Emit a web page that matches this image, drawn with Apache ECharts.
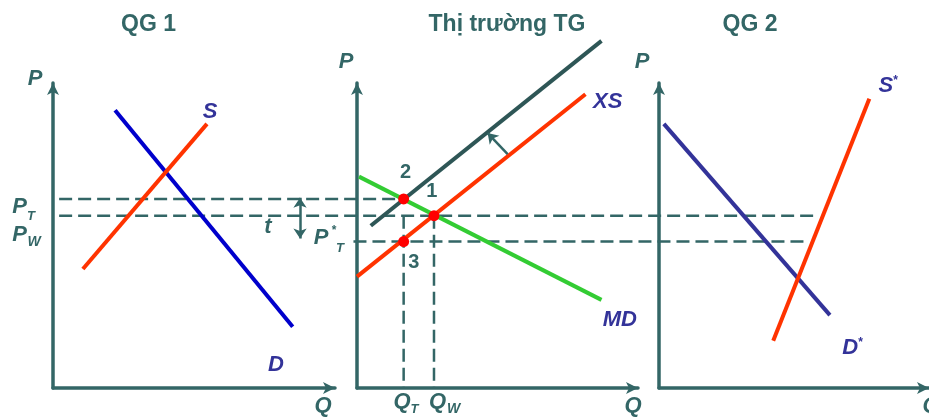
<!DOCTYPE html>
<html>
<head>
<meta charset="utf-8">
<title>Thị trường TG</title>
<script src="https://cdn.jsdelivr.net/npm/echarts@6/dist/echarts.min.js"></script>
<style>
  html, body { margin: 0; padding: 0; background: #fff; }
  #chart { width: 929px; height: 418px; }
</style>
</head>
<body>
<div id="chart"></div>
<script>
// muc gia (truc P: 0-100, truc Q: 0-100 cho moi o)
var pT = 62, pW = 56.5, pTStar = 48;

// QG 1
var s1 = [[10.6, 39], [54.6, 86.6]];
var d1 = [[22, 91.1], [85, 20.1]];
var tArrow = [[87.6, 62.4], [87.6, 49]];

// Thi truong TG
var xs = [[0, 36.5], [81.3, 96.3]];
var xsTariff = [[4.9, 53.2], [87, 113.8]];
var md = [[0.7, 69.3], [87, 28.9]];
var qT = 16.6, qW = 27.4;
var eqPoints = [[qW, pW], [qT, pT], [qT, pTStar]]; // diem 1, 2, 3
var shiftArrow = [[53.6, 76.7], [46.5, 83.6]];

// QG 2
var s2 = [[42.3, 15.5], [77.9, 94.8]];
var d2 = [[1.8, 86.6], [63.3, 23.9]];

// duong gach ngang: ve tren luoi phu trai qua ca 3 o (truc x: 0-100 = toan bo chieu rong)
var ptGuide = [[0.7, pT], [39.6, pT]];
var pwGuide = [[0.7, pW], [87.3, pW]];
var ptStarGuide = [[34.3, pTStar], [86.1, pTStar]];
// duong gach doc (o 2)
var qtGuide = [[qT, pW], [qT, 0]];
var qwGuide = [[qW, pW], [qW, 0]];

// nhan duong cong
var labels1 = [{ name: 'S', value: [55.7, 90.5] }, { name: 'D', value: [79.1, 7.5] }];
var labels2 = [{ name: 'XS', value: [89.2, 93.8] }, { name: 'MD', value: [93.5, 22.3] }];
var numLabels = [{ name: '1', value: [26.6, 64.3] }, { name: '2', value: [17.3, 70.5] }, { name: '3', value: [20.2, 41] }];
var labels3 = [{ name: 'S', value: [84.9, 99.2] }, { name: 'D', value: [71.7, 13.1] }];

var teal = '#336666';
var navy = '#333399';
var red = '#ff3300';
var FONT = '"Liberation Sans", Arial, sans-serif';

var grids = [
  { left: 53, top: 83, width: 282, height: 305 },
  { left: 357, top: 83, width: 281, height: 305 },
  { left: 659, top: 83, width: 281, height: 305 },
  { left: 53, top: 83, width: 887, height: 305 } // luoi phu cho duong gach ngang
];

function axis(i) {
  return {
    gridIndex: i, type: 'value', min: 0, max: 100, show: i < 3,
    axisLine: { show: true, onZero: false, symbol: ['none', 'arrow'], symbolSize: [9, 12],
      lineStyle: { color: teal, width: 3.5 } },
    axisTick: { show: false }, axisLabel: { show: false }, splitLine: { show: false }
  };
}

function seg(g, data, color, width, dashed, z) {
  return {
    type: 'line', xAxisIndex: g, yAxisIndex: g, data: data, symbol: 'none',
    clip: false, silent: true, z: z || 2,
    lineStyle: { color: color, width: width, type: dashed ? [13, 6] : 'solid', cap: 'butt' }
  };
}

function textSeries(g, data, color, size, italic) {
  return {
    type: 'scatter', xAxisIndex: g, yAxisIndex: g, data: data, symbolSize: 1,
    clip: false, silent: true, z: 5,
    itemStyle: { color: 'rgba(0,0,0,0)', opacity: 1 },
    label: {
      show: true, position: 'inside', formatter: '{b}',
      color: color, fontSize: size, fontWeight: 'bold', fontStyle: italic ? 'italic' : 'normal', fontFamily: FONT
    }
  };
}

function arrow(g, coords, ends) {
  return {
    type: 'lines', coordinateSystem: 'cartesian2d', xAxisIndex: g, yAxisIndex: g,
    symbol: ends, symbolSize: 10, silent: true, z: 4,
    lineStyle: { color: teal, width: 2.5, opacity: 1, curveness: 0 },
    data: [{ coords: coords }]
  };
}

function txt(text, x, y, size, italic, color) {
  return {
    type: 'text', x: x, y: y, silent: true,
    style: {
      text: text, fill: color || teal,
      font: (italic ? 'italic ' : '') + 'bold ' + size + 'px ' + FONT,
      textAlign: 'center', verticalAlign: 'middle'
    }
  };
}

var starLabel = {
  show: true, position: 'inside', color: navy, fontFamily: FONT,
  formatter: '{m|{b}}{sup|*}',
  rich: {
    m: { fontSize: 22, fontWeight: 'bold', fontStyle: 'italic', fontFamily: FONT, color: navy },
    sup: { fontSize: 12, fontWeight: 'bold', verticalAlign: 'top', fontFamily: FONT, color: navy }
  }
};

var chart = echarts.init(document.getElementById('chart'));
var option = {
  animation: false,
  backgroundColor: '#ffffff',
  grid: grids,
  xAxis: [axis(0), axis(1), axis(2), axis(3)],
  yAxis: [axis(0), axis(1), axis(2), axis(3)],
  series: [
    // duong gach
    seg(3, ptGuide, teal, 2.5, true, 1),
    seg(3, pwGuide, teal, 2.5, true, 1),
    seg(3, ptStarGuide, teal, 2.5, true, 1),
    seg(1, qtGuide, teal, 2.5, true, 1),
    seg(1, qwGuide, teal, 2.5, true, 1),
    // QG 1
    seg(0, d1, '#0000cc', 4),
    seg(0, s1, red, 4),
    arrow(0, tArrow, ['arrow', 'arrow']),
    textSeries(0, labels1, navy, 22, true),
    // Thi truong TG
    seg(1, md, '#33cc33', 4),
    seg(1, xs, red, 4),
    seg(1, xsTariff, '#2e5656', 4),
    arrow(1, shiftArrow, ['none', 'arrow']),
    {
      type: 'scatter', xAxisIndex: 1, yAxisIndex: 1, data: eqPoints, symbolSize: 11,
      clip: false, silent: true, z: 6, itemStyle: { color: '#ff0000', opacity: 1 }
    },
    textSeries(1, labels2, navy, 22, true),
    textSeries(1, numLabels, teal, 20, false),
    // QG 2
    seg(2, d2, navy, 4),
    seg(2, s2, red, 4),
    {
      type: 'scatter', xAxisIndex: 2, yAxisIndex: 2, data: labels3, symbolSize: 1,
      clip: false, silent: true, z: 5, itemStyle: { color: 'rgba(0,0,0,0)', opacity: 1 },
      label: starLabel
    }
  ],
  graphic: [
    txt('QG 1', 148.5, 25, 23, false),
    txt('Thị trường TG', 507, 25, 23, false),
    txt('QG 2', 750, 25, 23, false),
    txt('P', 35, 79, 22, true),
    txt('P', 346, 62, 22, true),
    txt('P', 642, 62, 22, true),
    txt('Q', 323, 406, 22, true),
    txt('Q', 633, 406, 22, true),
    txt('Q', 931, 406, 22, true),
    txt('P', 19.5, 206.5, 22, true),
    txt('T', 31, 216.5, 13, true),
    txt('P', 19.5, 234.5, 22, true),
    txt('W', 34, 242, 14, true),
    txt('t', 268, 227, 22, true),
    txt('P', 321, 238, 22, true),
    txt('*', 334, 231, 12, false),
    txt('T', 340, 248.5, 13, true),
    txt('Q', 402, 402, 22, true),
    txt('T', 414.5, 409, 13, true),
    txt('Q', 437.5, 402, 22, true),
    txt('W', 453.5, 409, 14, true)
  ]
};
chart.setOption(option);
</script>
</body>
</html>
